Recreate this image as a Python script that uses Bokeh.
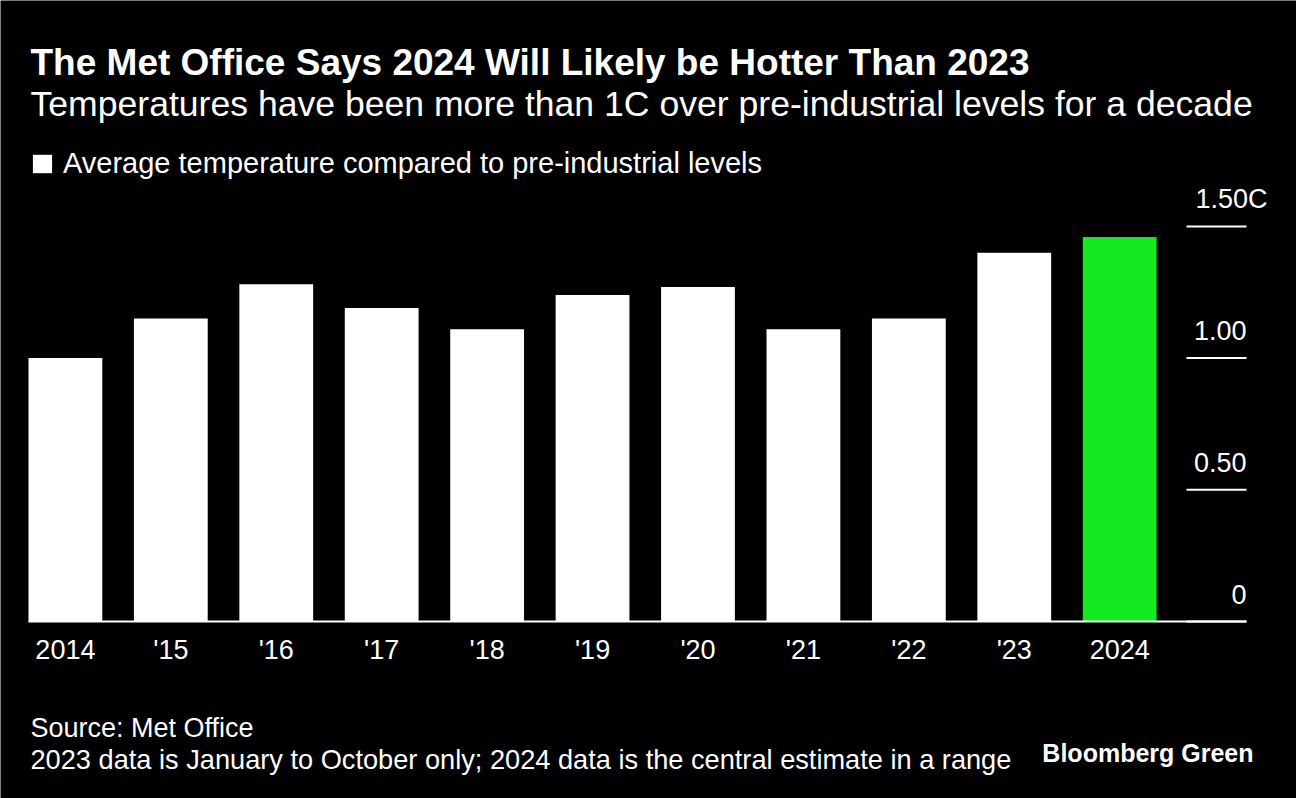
from bokeh.plotting import figure
from bokeh.models import (ColumnDataSource, Label, LabelSet, Legend, LegendItem, Range1d)
from bokeh.core.properties import value
from bokeh.embed import file_html
from bokeh.resources import INLINE

# ---------------- data ----------------
years = ["2014", "'15", "'16", "'17", "'18", "'19", "'20", "'21", "'22", "'23", "2024"]
temps = [1.00, 1.15, 1.28, 1.19, 1.11, 1.24, 1.27, 1.11, 1.15, 1.40, 1.46]
y_ticks = [0, 0.5, 1.0, 1.5]
y_tick_labels = ["0", "0.50", "1.00", "1.50C"]

title = "The Met Office Says 2024 Will Likely be Hotter Than 2023"
subtitle = "Temperatures have been more than 1C over pre-industrial levels for a decade"
legend_label = "Average temperature compared to pre-industrial levels"
source_note = "Source: Met Office"
data_note = "2023 data is January to October only; 2024 data is the central estimate in a range"
brand = "Bloomberg Green"

# ---------------- layout constants (canvas pixels) ----------------
FONT = "Liberation Sans"
W, H = 1296, 798
PLOT_L, PLOT_R, BASE = 28, 1246, 621      # chart area left/right edge and zero line
TICK_L = 1186                              # left end of the right-hand tick lines
PX_PER_CAT = 105.43
PX_PER_UNIT = 263.4
BAR_W = 0.7

x_start = -BAR_W / 2 - PLOT_L / PX_PER_CAT
x_end = x_start + W / PX_PER_CAT
y_start = -(H - BASE) / PX_PER_UNIT
y_end = BASE / PX_PER_UNIT

def px_x(px):
    return x_start + px / PX_PER_CAT

def px_y(py):
    return (BASE - py) / PX_PER_UNIT

WHITE = "#FFFFFF"
GREEN = "#14E920"
BG = "#000000"

idx = list(range(len(years)))
colors = [GREEN if y == "2024" else WHITE for y in years]
src = ColumnDataSource(dict(x=idx, top=temps, year=years, color=colors))

p = figure(width=W, height=H, output_backend="svg", toolbar_location=None,
           x_range=Range1d(x_start, x_end), y_range=Range1d(y_start, y_end),
           x_axis_location=None, y_axis_location=None,
           min_border=0, min_border_left=0, min_border_right=0,
           min_border_top=0, min_border_bottom=0,
           background_fill_color=BG, border_fill_color=BG, outline_line_color=None)
p.grid.visible = False

bars = p.vbar(x="x", top="top", width=BAR_W, bottom=0, source=src,
              fill_color="color", line_color=None)

# baseline (x axis line)
p.segment(x0=[px_x(PLOT_L)], x1=[px_x(PLOT_R)], y0=[0], y1=[0],
          line_color=WHITE, line_width=2)

# x tick labels
p.text(x=idx, y=[0] * len(idx), text=years, y_offset=28,
       text_align="center", text_baseline="middle", text_color=WHITE,
       text_font=value(FONT), text_font_size="27px")

# y tick lines (right side)
p.segment(x0=[px_x(TICK_L)] * len(y_ticks), x1=[px_x(PLOT_R)] * len(y_ticks),
          y0=y_ticks, y1=y_ticks, line_color=WHITE, line_width=2)

# y tick labels
tick_src = ColumnDataSource(dict(
    x=[px_x(PLOT_R)] * len(y_ticks), y=y_ticks, text=y_tick_labels,
    xoff=[21 if t.endswith("C") else 0 for t in y_tick_labels]))
p.add_layout(LabelSet(x="x", y="y", text="text", source=tick_src, x_offset="xoff",
                      y_offset=18, text_align="right", text_baseline="alphabetic",
                      text_color=WHITE, text_font=value(FONT),
                      text_font_size=value("27px")))

# legend
legend = Legend(items=[LegendItem(label=legend_label, renderers=[bars], index=0)],
                location=(30, H - 180), background_fill_alpha=0, border_line_color=None,
                label_text_color=WHITE, label_text_font=FONT, label_text_font_size="29px",
                glyph_width=24, glyph_height=23, label_standoff=9, padding=0, margin=0,
                label_height=23)
p.add_layout(legend)

# titles and notes (py = vertical centre of the text line)
def add_text(txt, px, py, size, bold=False, align="left"):
    p.add_layout(Label(x=px_x(px), y=px_y(py), text=txt, text_color=WHITE,
                       text_font=FONT, text_font_size=size,
                       text_font_style="bold" if bold else "normal",
                       text_align=align, text_baseline="middle"))

add_text(title, 30, 62, "37px", bold=True)
add_text(subtitle, 30, 103, "35.6px")
add_text(source_note, 30, 727, "27px")
add_text(data_note, 30, 759, "27.2px")
add_text(brand, 1253, 752, "25px", bold=True, align="right")

open("out.html", "w").write(file_html(p, INLINE))
